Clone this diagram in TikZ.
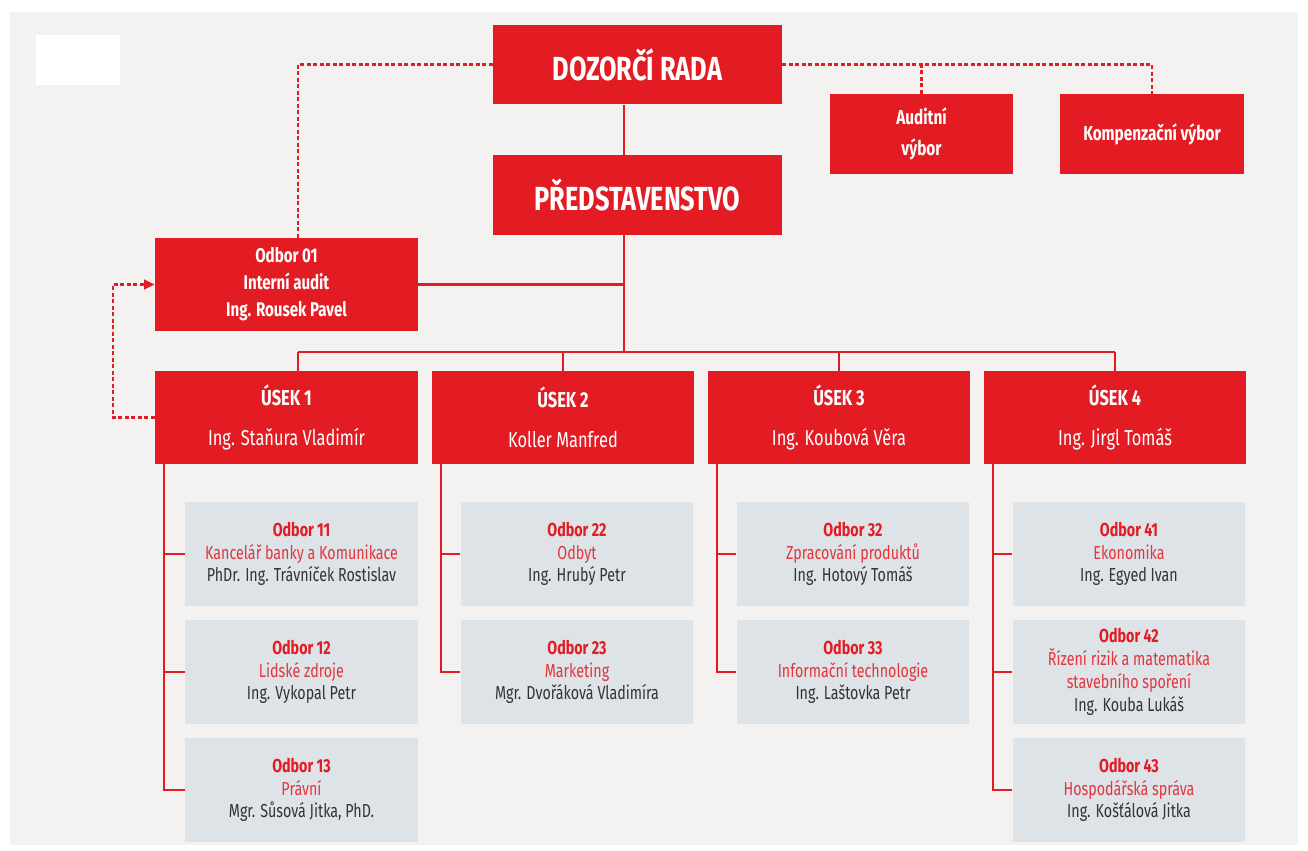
\documentclass[tikz,border=0pt]{standalone}
\usepackage{fontspec}
\setmainfont{Fira Sans}[FakeStretch=0.76]
\usetikzlibrary{arrows.meta}

\definecolor{bankred}{HTML}{E31B23}
\definecolor{lightred}{HTML}{E2353C}
\definecolor{boxgrey}{HTML}{DEE3E8}
\definecolor{namegrey}{HTML}{333333}
\definecolor{backgrey}{HTML}{F3F2F0}

\tikzset{
  redbox/.style={fill=bankred, text=white, align=center, inner sep=0pt},
  board/.style={redbox, minimum width=5.78cm, minimum height=1.59cm,
    font=\bfseries\fontsize{19}{22}\selectfont},
  committee/.style={redbox, minimum width=3.67cm, minimum height=1.6cm,
    font=\bfseries\fontsize{11.5}{17.6}\selectfont},
  audit/.style={redbox, minimum width=5.26cm, minimum height=1.86cm,
    font=\bfseries\fontsize{11.3}{15.3}\selectfont},
  usek/.style={redbox, minimum width=5.26cm, minimum height=1.85cm,
    font=\fontsize{12.3}{22.7}\selectfont},
  odbor/.style={fill=boxgrey, text=namegrey, align=center, inner sep=0pt,
    minimum width=4.66cm, minimum height=2.07cm,
    font=\fontsize{10.7}{13}\selectfont},
  link/.style={draw=bankred, line width=1.3pt},
  dashlink/.style={draw=bankred, line width=1.3pt, dash pattern=on 2.2pt off 1.5pt}
}
\newcommand{\odbortext}[3]{\textcolor{bankred}{\bfseries #1}\\\textcolor{lightred}{#2}\\#3}

\begin{document}
\begin{tikzpicture}[x=0.02cm, y=-0.02cm]
  \useasboundingbox (0,0) rectangle (1308,851);
  \fill[white] (0,0) rectangle (1308,851);
  \fill[backgrey] (10,12) rectangle (1298,845);
  \fill[white] (36,35) rectangle (120,85);

  \node[board] (doz) at (637.5,64.5) {DOZORČÍ RADA};
  \node[board] (pred) at (637.5,195) {PŘEDSTAVENSTVO};
  \node[committee] (audv) at (921.5,134) {Auditní\\výbor};
  \node[committee] (komp) at (1152,134) {Kompenzační výbor};
  \node[audit] (o01) at (286.5,284.5) {Odbor 01\\Interní audit\\Ing. Rousek Pavel};

  \node[usek] (u1) at (286.5,417.5) {\textbf{ÚSEK 1}\\Ing. Staňura Vladimír};
  \node[usek] (u2) at (563,417.5) {\textbf{ÚSEK 2}\\Koller Manfred};
  \node[usek] (u3) at (839,417.5) {\textbf{ÚSEK 3}\\Ing. Koubová Věra};
  \node[usek] (u4) at (1115,417.5) {\textbf{ÚSEK 4}\\Ing. Jirgl Tomáš};

  \node[odbor] (g11) at (301.5,554) {\odbortext{Odbor 11}{Kancelář banky a Komunikace}{PhDr. Ing. Trávníček Rostislav}};
  \node[odbor] (g12) at (301.5,672) {\odbortext{Odbor 12}{Lidské zdroje}{Ing. Vykopal Petr}};
  \node[odbor] (g13) at (301.5,790) {\odbortext{Odbor 13}{Právní}{Mgr. Sůsová Jitka, PhD.}};
  \node[odbor] (g22) at (577,554) {\odbortext{Odbor 22}{Odbyt}{Ing. Hrubý Petr}};
  \node[odbor] (g23) at (577,672) {\odbortext{Odbor 23}{Marketing}{Mgr. Dvořáková Vladimíra}};
  \node[odbor] (g32) at (853,554) {\odbortext{Odbor 32}{Zpracování produktů}{Ing. Hotový Tomáš}};
  \node[odbor] (g33) at (853,672) {\odbortext{Odbor 33}{Informační technologie}{Ing. Laštovka Petr}};
  \node[odbor] (g41) at (1129,554) {\odbortext{Odbor 41}{Ekonomika}{Ing. Egyed Ivan}};
  \node[odbor] (g42) at (1129,672) {\odbortext{Odbor 42}{Řízení rizik a matematika}{\textcolor{lightred}{stavebního spoření}\\Ing. Kouba Lukáš}};
  \node[odbor] (g43) at (1129,790) {\odbortext{Odbor 43}{Hospodářská správa}{Ing. Košťálová Jitka}};

  \coordinate (trunk) at (624,352);
  \coordinate (bus) at (298,352);
  \coordinate (loop) at (113,417.5);

  \draw[link] (doz.south -| trunk) -- (pred.north -| trunk);
  \draw[link] (pred.south -| trunk) -- (trunk);
  \draw[link] (o01.east) -- (o01.east -| trunk);
  \draw[link] (bus) -- (bus -| u4.north);
  \draw[link] (bus) -- (bus |- u1.north);
  \foreach \i in {2,3,4}
    \draw[link] (u\i.north) -- (u\i.north |- bus);

  \draw[dashlink] (doz.west) -| (o01.north -| bus);
  \draw[dashlink] (doz.east) -| (komp.north);
  \draw[dashlink] (audv.north) -- (audv.north |- doz.east);
  \draw[dashlink, -{Triangle[length=6pt, width=5.5pt]}] (u1.west) -- (loop) |- (o01.west);

  \foreach \u/\last/\rest in {1/13/{11,12}, 2/23/{22}, 3/33/{32}, 4/43/{41,42}} {
    \coordinate (s\u) at ([xshift=0.19cm]u\u.south west);
    \draw[link] (s\u) |- (g\last.west);
    \foreach \g in \rest
      \draw[link] (g\g.west) -- (g\g.west -| s\u);
  }
\end{tikzpicture}
\end{document}
